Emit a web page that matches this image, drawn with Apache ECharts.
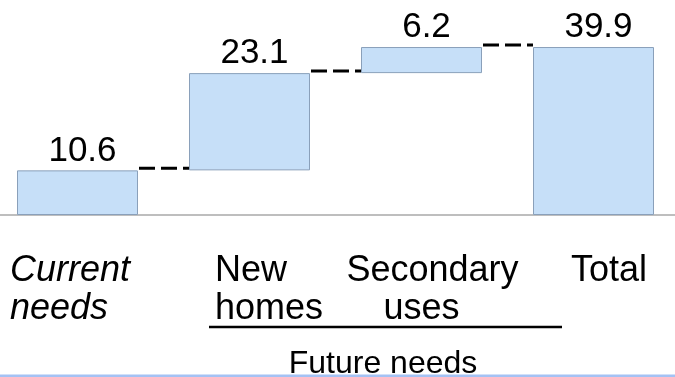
<!DOCTYPE html>
<html>
<head>
<meta charset="utf-8">
<script src="https://cdn.jsdelivr.net/npm/echarts@6/dist/echarts.min.js"></script>
<style>
html,body{margin:0;padding:0;background:#fff;}
#chart{width:675px;height:377px;}
</style>
</head>
<body>
<div id="chart"></div>
<script>
const categories = ['Current\nneeds', 'New\nhomes', 'Secondary\nuses', 'Total'];
const values = [10.6, 23.1, 6.2, 39.9];
const groupLabel = 'Future needs';

// derived waterfall bases (0 for first and total)
const bases = [];
let run = 0;
values.forEach((v, i) => {
  if (i === 0 || i === values.length - 1) { bases.push(0); } else { bases.push(run); }
  run += (i === values.length - 1) ? 0 : v;
});
const connectors = [];
let cum = 0;
for (let i = 0; i < values.length - 1; i++) {
  cum += values[i];
  connectors.push([i, +cum.toFixed(1)]);
}

const FONT = "'Liberation Sans', Arial, sans-serif";
const BAR_W = 121;
const CAT_FS = 36;
const chart = echarts.init(document.getElementById('chart'), null, {renderer: 'canvas'});

const base = {fontSize: CAT_FS, lineHeight: 38, fontFamily: FONT, color: '#000'};
const richStyles = {
  s0: Object.assign({}, base, {fontStyle: 'italic', align: 'left', padding: [0, 15, 0, 0]}),
  s1: Object.assign({}, base, {align: 'left', padding: [0, 0, 0, 39]}),
  s2a: Object.assign({}, base, {align: 'center', padding: [0, 0, 0, 22]}),
  s2b: Object.assign({}, base, {align: 'center'}),
  s3: Object.assign({}, base, {align: 'center', padding: [0, 0, 0, 31]})
};
const tokenNames = [['s0', 's0'], ['s1', 's1'], ['s2a', 's2b'], ['s3']];

chart.setOption({
  animation: false,
  backgroundColor: '#fff',
  grid: {left: -8.5, width: 688, top: 46.6, bottom: 162, outerBoundsMode: 'none', containLabel: false},
  xAxis: {
    type: 'category',
    data: categories,
    axisLine: {show: true, lineStyle: {color: '#a8a8a8', width: 1.5}},
    axisTick: {show: false},
    splitLine: {show: false},
    axisLabel: {
      interval: 0,
      margin: 37,
      fontSize: CAT_FS,
      lineHeight: 38,
      fontFamily: FONT,
      color: '#000',
      hideOverlap: false,
      formatter: function (value, idx) {
        return value.split('\n').map((l, j) => '{' + tokenNames[idx][j] + '|' + l + '}').join('\n');
      },
      rich: richStyles
    }
  },
  yAxis: {type: 'value', show: false, min: 0, max: 40, splitLine: {show: false}},
  series: [
    {
      type: 'bar', stack: 'w', data: bases, barWidth: BAR_W,
      itemStyle: {color: 'transparent'}, silent: true, z: 2
    },
    {
      type: 'bar', stack: 'w', data: values, barWidth: BAR_W,
      itemStyle: {color: '#c6dff8', borderColor: '#8aa0ba', borderWidth: 1},
      label: {
        show: true, position: 'top', distance: 2, offset: [5, 0],
        fontSize: 35, fontFamily: FONT, color: '#000',
        formatter: p => p.value.toFixed(1)
      },
      z: 2
    },
    {
      type: 'custom',
      data: connectors,
      encode: {x: 0, y: 1},
      z: 3,
      renderItem: function (params, api) {
        const i = api.value(0), v = api.value(1);
        const p0 = api.coord([i, v]);
        const p1 = api.coord([i + 1, v]);
        return {
          type: 'line',
          shape: {x1: p0[0] + BAR_W / 2 + 1, y1: p0[1] - 2, x2: p1[0] - BAR_W / 2, y2: p1[1] - 2},
          style: {stroke: '#000', lineWidth: 3, lineDash: [16, 6], fill: null}
        };
      }
    }
  ],
  graphic: [
    {type: 'line', shape: {x1: 209, y1: 327, x2: 562, y2: 327}, style: {stroke: '#000', lineWidth: 2.5}},
    {type: 'text', x: 383, y: 380, style: {text: groupLabel, fontSize: 32, fontFamily: FONT, fill: '#000', textAlign: 'center', textVerticalAlign: 'bottom'}, z: 10},
    {type: 'rect', shape: {x: 0, y: 374.5, width: 675, height: 3}, style: {fill: '#a4c2f4'}, z: 5}
  ]
});
</script>
</body>
</html>
